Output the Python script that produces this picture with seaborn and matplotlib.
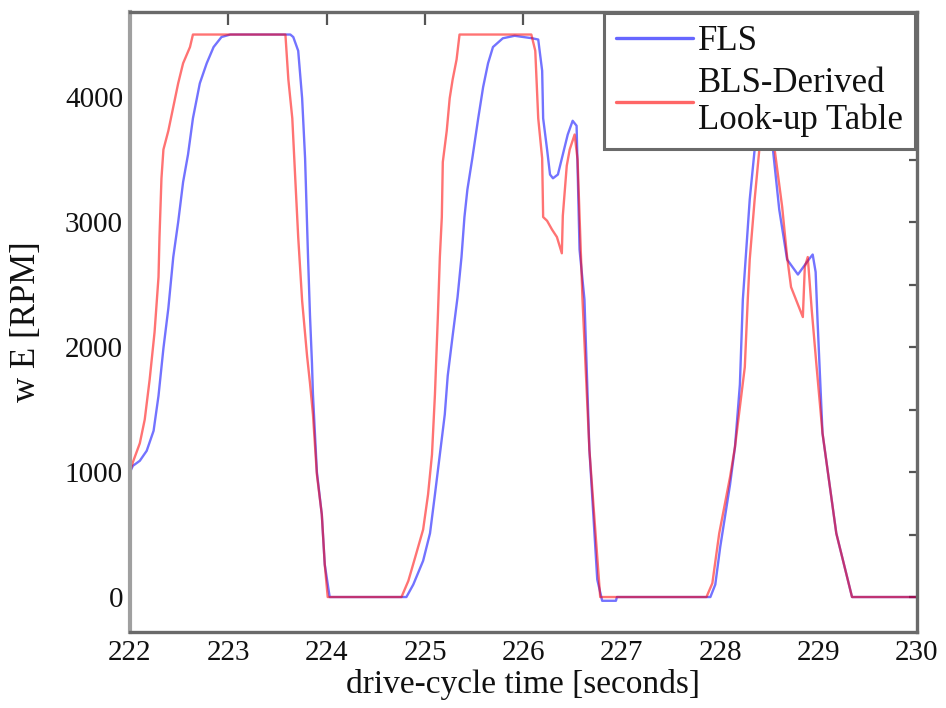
import numpy as np
import pandas as pd
import matplotlib
matplotlib.use("Agg")
import matplotlib.pyplot as plt
import seaborn as sns

# ---- data ----
fls_t = [222.0, 222.03, 222.1, 222.17, 222.24, 222.29, 222.34, 222.39, 222.44, 222.49, 222.54,
         222.59, 222.64, 222.71, 222.78, 222.85, 222.93, 223.02, 223.63, 223.66, 223.71, 223.75,
         223.78, 223.81, 223.83, 223.85, 223.86, 223.9, 223.95, 223.98, 224.03, 224.77, 224.81,
         224.88, 224.98, 225.05, 225.1, 225.15, 225.2, 225.23, 225.28, 225.33, 225.37, 225.4,
         225.43, 225.48, 225.54, 225.59, 225.64, 225.69, 225.79, 225.91, 226.09, 226.15, 226.19,
         226.2, 226.24, 226.27, 226.3, 226.35, 226.4, 226.45, 226.5, 226.54, 226.57, 226.62,
         226.67, 226.75, 226.8, 226.94, 226.95, 227.9, 227.95, 228.0, 228.1, 228.15, 228.2,
         228.23, 228.3, 228.35, 228.45, 228.52, 228.6, 228.68, 228.79, 228.9, 228.94, 228.97,
         228.99, 229.04, 229.18, 229.34, 230.0]
fls_rpm = [1000, 1050, 1090, 1170, 1330, 1610, 1990, 2310, 2720, 3000, 3320,
           3540, 3830, 4110, 4270, 4400, 4480, 4500, 4500, 4480, 4370, 3990,
           3510, 2720, 2250, 1870, 1620, 1000, 660, 260, 0, 0, 0,
           100, 290, 510, 820, 1140, 1460, 1770, 2090, 2400, 2720, 3040,
           3260, 3510, 3830, 4080, 4270, 4400, 4470, 4490, 4470, 4460, 4210,
           3830, 3580, 3380, 3350, 3380, 3540, 3700, 3810, 3770, 2780, 2380,
           1180, 140, -30, -30, 0, 0, 100, 400, 900, 1200, 1700,
           2380, 3180, 3580, 3950, 3700, 3100, 2700, 2580, 2700, 2740, 2600,
           2200, 1310, 510, 0, 0]

bls_t = [222.0, 222.03, 222.1, 222.15, 222.2, 222.25, 222.29, 222.3, 222.32, 222.34, 222.39,
         222.44, 222.49, 222.54, 222.61, 222.64, 223.58, 223.61, 223.65, 223.68, 223.71, 223.75,
         223.8, 223.83, 223.86, 223.9, 223.95, 223.98, 224.01, 224.76, 224.83, 224.9, 224.98,
         225.03, 225.07, 225.1, 225.13, 225.15, 225.17, 225.18, 225.22, 225.25, 225.28, 225.32,
         225.35, 226.08, 226.12, 226.15, 226.19, 226.2, 226.24, 226.29, 226.34, 226.39, 226.4,
         226.44, 226.47, 226.52, 226.55, 226.6, 226.67, 226.78, 227.86, 227.92, 227.99, 228.1,
         228.15, 228.2, 228.25, 228.28, 228.3, 228.35, 228.4, 228.48, 228.55, 228.63, 228.68,
         228.72, 228.8, 228.84, 228.86, 228.89, 228.93, 228.98, 229.04, 229.18, 229.34, 230.0]
bls_rpm = [1000, 1080, 1230, 1420, 1740, 2120, 2560, 2880, 3350, 3580, 3730,
           3920, 4110, 4270, 4400, 4500, 4500, 4140, 3830, 3350, 2880, 2370,
           1930, 1710, 1460, 980, 660, 260, 0, 0, 130, 320, 540,
           820, 1140, 1620, 2250, 2720, 3040, 3480, 3730, 3990, 4140, 4300,
           4500, 4500, 4370, 3830, 3510, 3040, 3010, 2940, 2880, 2750, 3050,
           3450, 3580, 3700, 3500, 2380, 1180, 0, 0, 110, 510, 960,
           1200, 1520, 1840, 2380, 2700, 3180, 3600, 3950, 3600, 3120, 2720,
           2480, 2320, 2240, 2640, 2720, 2300, 1840, 1310, 510, 0, 0]

series_names = ["FLS", "BLS-Derived\nLook-up Table"]
x_ticks = [222, 223, 224, 225, 226, 227, 228, 229, 230]
y_ticks = [0, 1000, 2000, 3000, 4000]

df = pd.concat([
    pd.DataFrame({"t": fls_t, "rpm": fls_rpm, "series": series_names[0]}),
    pd.DataFrame({"t": bls_t, "rpm": bls_rpm, "series": series_names[1]}),
], ignore_index=True)

sns.set_style("white")
plt.rcParams["font.family"] = ["Liberation Serif", "DejaVu Serif"]

fig = plt.figure(figsize=(9.46, 7.08), dpi=100)
ax = fig.add_axes([0.1374, 0.1073, 0.8319, 0.8757])

palette = {series_names[0]: "#0000ff", series_names[1]: "#ff0000"}
sns.lineplot(data=df, x="t", y="rpm", hue="series", palette=palette,
             sort=False, estimator=None, linewidth=1.7, alpha=0.55, ax=ax)

ax.set_xlim(222, 230)
ax.set_ylim(-280, 4680)
ax.set_xticks(x_ticks)
ax.set_yticks(y_ticks)
ax.set_yticks(np.arange(0, 4501, 500), minor=True)
ax.tick_params(axis="both", which="both", direction="in", top=True, right=True,
               color="#555555", labelsize=21, width=1.6, labelcolor="#111111")
ax.tick_params(axis="x", which="major", length=9, pad=6)
ax.tick_params(axis="y", which="both", length=6, pad=5)
ax.tick_params(axis="x", which="minor", bottom=False, top=False)
for name, s in ax.spines.items():
    s.set_color("#6a6a6a")
    s.set_linewidth(2.4)
ax.spines["left"].set_color("#a0a0a0")
ax.spines["left"].set_linewidth(3.0)

ax.set_xlabel("drive-cycle time [seconds]", fontsize=24, labelpad=2, color="#111111")
ax.set_ylabel("w E [RPM]", fontsize=25, labelpad=16, color="#111111")

handles, labels = ax.get_legend_handles_labels()
leg = ax.legend(handles, series_names, loc="upper right", bbox_to_anchor=(0.9975, 0.9985),
                fontsize=25, frameon=True, fancybox=False, framealpha=1,
                edgecolor="#6a6a6a", handlelength=2.2, handletextpad=0.15,
                borderpad=0.35, labelspacing=0.25, borderaxespad=0.0)
leg.get_frame().set_linewidth(2.2)
for h in leg.get_lines():
    h.set_linewidth(2.4)
    h.set_alpha(0.6)
for t in leg.get_texts():
    t.set_linespacing(1.15)
    t.set_color("#111111")

fig.savefig("out.png", dpi=100)
